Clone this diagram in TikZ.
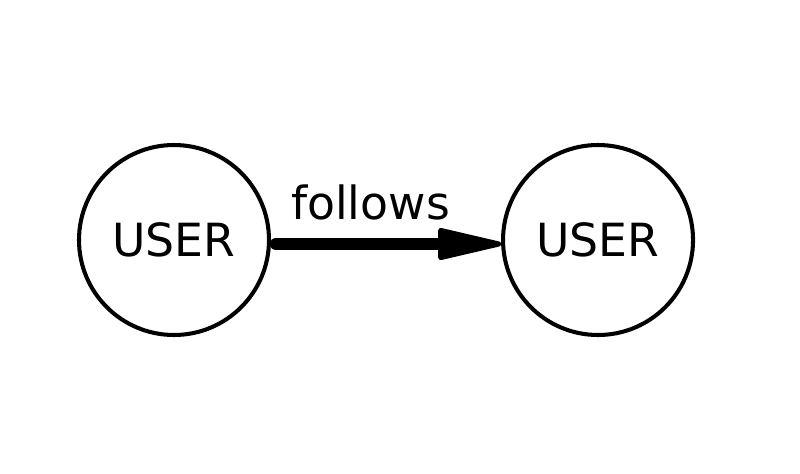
\documentclass[tikz,border=0pt]{standalone}
\usepackage{fontspec}
\setmainfont{DejaVu Sans}
\usetikzlibrary{positioning,arrows.meta}

\begin{document}
\begin{tikzpicture}[
  font=\fontsize{26}{30}\selectfont,
  entity/.style={draw, circle, line width=2.3pt, minimum size=3.8cm, inner sep=0pt},
  rel/.style={line width=7pt, line cap=round, line join=round,
              -{Triangle[length=1.45cm, width=0.64cm, line width=3pt, round]}},
  lbl/.style={inner sep=0pt}
]
  \useasboundingbox (-3.48,-4.66) rectangle (12.52,4.80);

  % ================= NODES =================
  \node[entity] (user1) at (0,0) {USER};
  \node[entity, right=4.6cm of user1] (user2) {USER};

  % ================= RELATION =================
  \draw[rel] ([xshift=0.1cm,yshift=-0.08cm]user1.east) -- ([yshift=-0.08cm]user2.west)
    node[lbl, pos=0.42, above=0.36cm] {follows};
\end{tikzpicture}
\end{document}
